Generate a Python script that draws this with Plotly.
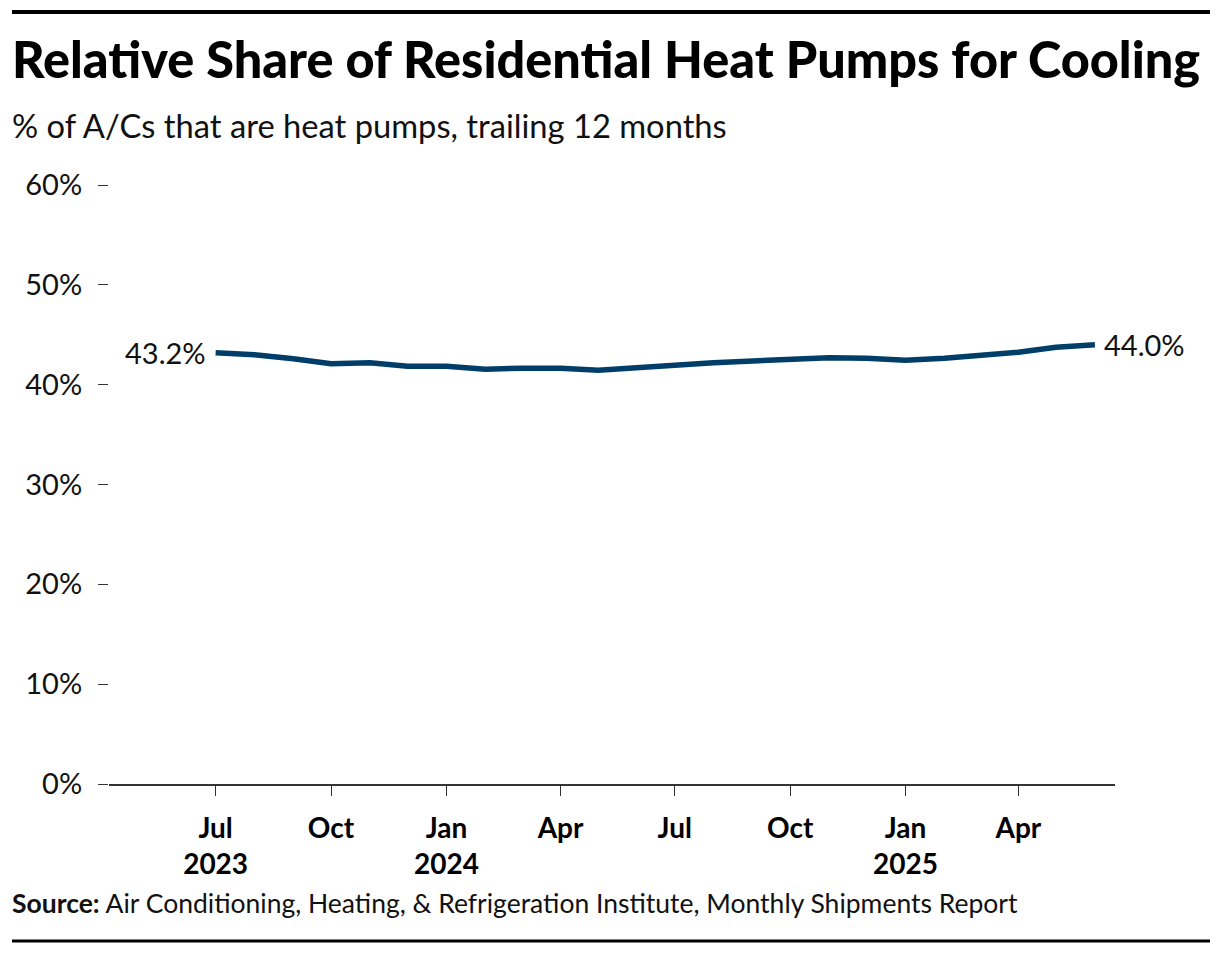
import plotly.graph_objects as go

# ---- data ----
months = ["2023-07-01", "2023-08-01", "2023-09-01", "2023-10-01", "2023-11-01", "2023-12-01",
          "2024-01-01", "2024-02-01", "2024-03-01", "2024-04-01", "2024-05-01", "2024-06-01",
          "2024-07-01", "2024-08-01", "2024-09-01", "2024-10-01", "2024-11-01", "2024-12-01",
          "2025-01-01", "2025-02-01", "2025-03-01", "2025-04-01", "2025-05-01", "2025-06-01"]
share = [43.2, 43.0, 42.6, 42.1, 42.2, 41.85,
         41.85, 41.55, 41.65, 41.65, 41.45, 41.65,
         41.95, 42.2, 42.4, 42.6, 42.7, 42.65,
         42.45, 42.65, 42.9, 43.25, 43.75, 44.0]
tick_dates = ["2023-07-01", "2023-10-01", "2024-01-01", "2024-04-01",
              "2024-07-01", "2024-10-01", "2025-01-01", "2025-04-01"]
tick_labels = ["Jul<br>2023", "Oct", "Jan<br>2024", "Apr", "Jul", "Oct", "Jan<br>2025", "Apr"]
y_ticks = [0, 10, 20, 30, 40, 50, 60]

# ---- layout geometry (pixels) ----
W, H = 1220, 954
L, R, T, B = 109, 1115, 185, 784
pw, ph = R - L, B - T

def px(x):
    return (x - L) / pw

def py(y):
    return (B - y) / ph

FONT = "Lato"
LINE_COLOR = "#003e69"

fig = go.Figure()
fig.add_trace(go.Scatter(x=months, y=share, mode="lines",
                         line=dict(color=LINE_COLOR, width=5.5), hoverinfo="skip"))

annotations = [
    dict(x=months[0], y=share[0], xref="x", yref="y", text=f"{share[0]:.1f}%",
         showarrow=False, xanchor="right", yanchor="middle", xshift=-8,
         font=dict(family=FONT, size=29, color="#111")),
    dict(x=months[-1], y=share[-1], xref="x", yref="y", text=f"{share[-1]:.1f}%",
         showarrow=False, xanchor="left", yanchor="middle", xshift=7,
         font=dict(family=FONT, size=29, color="#111")),
    dict(x=px(10), y=py(59), xref="paper", yref="paper", xanchor="left", yanchor="middle",
         text="Relative Share of Residential Heat Pumps for Cooling", showarrow=False,
         font=dict(family=FONT, size=50.4, color="#000", weight=900)),
    dict(x=px(10), y=py(126), xref="paper", yref="paper", xanchor="left", yanchor="middle",
         text="% of A/Cs that are heat pumps, trailing 12 months", showarrow=False,
         font=dict(family=FONT, size=32.7, color="#111")),
    dict(x=px(10), y=py(903), xref="paper", yref="paper", xanchor="left", yanchor="middle",
         text="<b>Source:</b> Air Conditioning, Heating, &amp; Refrigeration Institute, Monthly Shipments Report",
         showarrow=False, font=dict(family=FONT, size=26.5, color="#111")),
]

shapes = [
    dict(type="line", xref="paper", yref="paper", x0=px(12), x1=px(1210), y0=py(12), y1=py(12),
         line=dict(color="#000", width=4)),
    dict(type="line", xref="paper", yref="paper", x0=px(12), x1=px(1210), y0=py(941), y1=py(941),
         line=dict(color="#000", width=3)),
]

fig.update_layout(
    width=W, height=H, autosize=False,
    margin=dict(l=L, r=W - R, t=T, b=H - B, pad=0),
    paper_bgcolor="white", plot_bgcolor="white",
    showlegend=False,
    font=dict(family=FONT, color="#111"),
    annotations=annotations, shapes=shapes,
    xaxis=dict(type="date", range=["2023-04-07", "2025-06-17"],
               tickmode="array", tickvals=tick_dates, ticktext=tick_labels,
               showline=True, linecolor="#333", linewidth=2,
               ticks="outside", ticklen=10, tickwidth=1, tickcolor="#333",
               showgrid=False, zeroline=False, ticklabelstandoff=8,
               tickfont=dict(family=FONT, size=28, color="#000", weight="bold")),
    yaxis=dict(range=[0, 60], tickmode="array", tickvals=y_ticks,
               ticktext=[f"{v}%" for v in y_ticks],
               showline=False, showgrid=False, zeroline=False,
               ticks="outside", ticklen=10, tickwidth=1, tickcolor="#333",
               ticklabelstandoff=10,
               tickfont=dict(family=FONT, size=29, color="#111")),
)

fig.write_html("out.html", config={"displayModeBar": False},
               post_script="document.body.style.margin='0';")
